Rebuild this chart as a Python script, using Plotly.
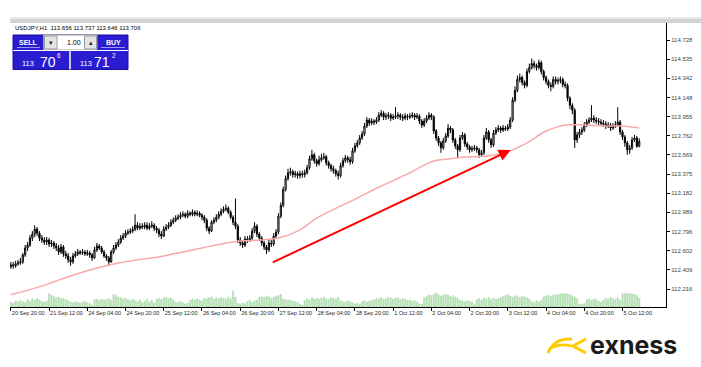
import plotly.graph_objects as go

# ---------------- data ----------------
x_tick_bars = [0, 16, 32, 48, 64, 80, 96, 112, 128, 144, 160, 176, 192, 208, 224, 240, 256]
x_tick_labels = ["20 Sep 20:00", "21 Sep 12:00", "24 Sep 04:00", "24 Sep 20:00", "25 Sep 12:00",
                 "26 Sep 04:00", "26 Sep 20:00", "27 Sep 12:00", "28 Sep 04:00", "28 Sep 20:00",
                 "1 Oct 12:00", "2 Oct 04:00", "2 Oct 20:00", "3 Oct 12:00", "4 Oct 04:00",
                 "4 Oct 20:00", "5 Oct 12:00"]
y_ticks = [114.728, 114.535, 114.342, 114.148, 113.955, 113.762, 113.569, 113.375,
           113.182, 112.989, 112.796, 112.602, 112.409, 112.216]

first_open = 112.44
close = [
    112.46, 112.45, 112.47, 112.48, 112.49, 112.56, 112.63, 112.66, 112.73, 112.77,
    112.82, 112.78, 112.73, 112.71, 112.69, 112.71, 112.67, 112.68, 112.65, 112.63,
    112.59, 112.64, 112.57, 112.55, 112.51, 112.49, 112.55, 112.57, 112.59, 112.58,
    112.59, 112.57, 112.58, 112.56, 112.53, 112.61, 112.65, 112.63, 112.59, 112.55,
    112.53, 112.49, 112.59, 112.63, 112.66, 112.69, 112.73, 112.75, 112.78, 112.79,
    112.80, 112.82, 112.86, 112.83, 112.85, 112.84, 112.86, 112.83, 112.85, 112.86,
    112.83, 112.81, 112.77, 112.75, 112.82, 112.84, 112.86, 112.89, 112.91, 112.93,
    112.94, 112.96, 112.97, 112.95, 112.98, 112.97, 112.99, 112.97, 112.98, 112.96,
    112.94, 112.91, 112.83, 112.80, 112.89, 112.91, 112.94, 112.97, 113.00, 113.02,
    113.03, 112.99, 112.94, 112.89, 112.85, 112.71, 112.68, 112.66, 112.72, 112.71,
    112.73, 112.80, 112.85, 112.77, 112.73, 112.68, 112.64, 112.61, 112.68, 112.67,
    112.75, 112.79, 112.95, 113.06, 113.22, 113.33, 113.39, 113.40, 113.37, 113.38,
    113.36, 113.38, 113.37, 113.39, 113.44, 113.53, 113.57, 113.51, 113.48, 113.52,
    113.54, 113.55, 113.49, 113.46, 113.43, 113.41, 113.38, 113.36, 113.46, 113.51,
    113.54, 113.52, 113.50, 113.61, 113.66, 113.69, 113.74, 113.78, 113.86, 113.92,
    113.89, 113.91, 113.90, 113.92, 113.97, 113.99, 113.95, 113.96, 113.97, 113.94,
    113.95, 113.96, 113.97, 113.95, 113.94, 113.96, 113.95, 113.96, 113.97, 113.95,
    113.96, 113.91, 113.87, 113.91, 113.94, 113.97, 113.95, 113.81, 113.74, 113.69,
    113.64, 113.71, 113.76, 113.84, 113.82, 113.72, 113.66, 113.62, 113.74, 113.77,
    113.68, 113.65, 113.62, 113.63, 113.64, 113.62, 113.57, 113.59, 113.74, 113.80,
    113.72, 113.67, 113.79, 113.82, 113.84, 113.82, 113.84, 113.83, 113.85, 113.92,
    114.12, 114.22, 114.33, 114.35, 114.30, 114.27, 114.41, 114.45, 114.49, 114.47,
    114.45, 114.50, 114.41, 114.35, 114.31, 114.27, 114.26, 114.33, 114.31, 114.32,
    114.33, 114.28, 114.27, 114.14, 114.07, 114.02, 113.72, 113.77, 113.80, 113.82,
    113.87, 113.90, 113.92, 113.94, 113.92, 113.91, 113.90, 113.89, 113.88, 113.86,
    113.87, 113.84, 113.86, 113.87, 113.90, 113.80, 113.75, 113.69, 113.62, 113.64,
    113.72, 113.74, 113.656, 113.706]
high = [
    112.49, 112.49, 112.50, 112.51, 112.53, 112.58, 112.66, 112.69, 112.76, 112.80,
    112.86, 112.84, 112.80, 112.76, 112.74, 112.74, 112.73, 112.71, 112.70, 112.68,
    112.66, 112.67, 112.66, 112.60, 112.58, 112.54, 112.58, 112.60, 112.62, 112.61,
    112.62, 112.61, 112.61, 112.60, 112.58, 112.64, 112.68, 112.67, 112.65, 112.61,
    112.57, 112.55, 112.61, 112.66, 112.69, 112.72, 112.76, 112.78, 112.81, 112.82,
    112.83, 112.85, 112.97, 112.89, 112.88, 112.88, 112.89, 112.89, 112.88, 112.90,
    112.88, 112.85, 112.83, 112.80, 112.85, 112.87, 112.89, 112.92, 112.94, 112.96,
    112.97, 112.99, 113.00, 112.99, 113.01, 113.00, 113.02, 113.01, 113.01, 113.00,
    112.98, 112.96, 112.93, 112.85, 112.91, 112.94, 112.97, 113.00, 113.03, 113.05,
    113.07, 113.05, 113.01, 112.96, 113.13, 112.87, 112.74, 112.71, 112.75, 112.75,
    112.76, 112.83, 112.89, 112.87, 112.79, 112.75, 112.70, 112.66, 112.71, 112.71,
    112.78, 112.82, 112.98, 113.09, 113.25, 113.36, 113.43, 113.44, 113.42, 113.41,
    113.40, 113.41, 113.41, 113.42, 113.47, 113.56, 113.62, 113.59, 113.53, 113.56,
    113.58, 113.59, 113.57, 113.51, 113.48, 113.46, 113.43, 113.41, 113.49, 113.54,
    113.57, 113.56, 113.55, 113.64, 113.69, 113.72, 113.77, 113.81, 113.89, 113.95,
    113.94, 113.94, 113.93, 113.95, 114.00, 114.02, 114.01, 113.99, 114.00, 113.99,
    113.98, 114.05, 114.00, 113.99, 113.98, 113.99, 113.98, 113.99, 114.00, 113.99,
    113.99, 113.98, 113.93, 113.94, 113.97, 114.00, 113.99, 113.97, 113.83, 113.76,
    113.71, 113.74, 113.79, 113.88, 113.86, 113.84, 113.74, 113.68, 113.77, 113.80,
    113.79, 113.70, 113.67, 113.66, 113.67, 113.66, 113.64, 113.62, 113.77, 113.84,
    113.82, 113.74, 113.82, 113.85, 113.87, 113.86, 113.87, 113.86, 113.88, 113.95,
    114.15, 114.26, 114.37, 114.39, 114.37, 114.32, 114.44, 114.49, 114.54, 114.52,
    114.49, 114.53, 114.52, 114.43, 114.37, 114.33, 114.30, 114.36, 114.36, 114.35,
    114.36, 114.35, 114.31, 114.29, 114.16, 114.09, 114.04, 113.80, 113.83, 113.85,
    113.90, 113.93, 113.95, 114.07, 113.97, 113.95, 113.94, 113.93, 113.92, 113.91,
    113.90, 113.89, 113.89, 113.91, 114.05, 113.92, 113.82, 113.77, 113.71, 113.67,
    113.75, 113.77, 113.76, 113.737]
low = [
    112.42, 112.42, 112.43, 112.45, 112.46, 112.47, 112.54, 112.60, 112.64, 112.70,
    112.74, 112.75, 112.70, 112.68, 112.66, 112.66, 112.64, 112.64, 112.62, 112.60,
    112.56, 112.57, 112.54, 112.52, 112.48, 112.45, 112.47, 112.53, 112.55, 112.56,
    112.56, 112.55, 112.55, 112.53, 112.50, 112.52, 112.59, 112.61, 112.57, 112.53,
    112.50, 112.45, 112.48, 112.57, 112.61, 112.64, 112.67, 112.71, 112.73, 112.76,
    112.77, 112.78, 112.80, 112.81, 112.81, 112.82, 112.82, 112.81, 112.81, 112.83,
    112.80, 112.78, 112.74, 112.72, 112.74, 112.80, 112.82, 112.84, 112.87, 112.89,
    112.91, 112.92, 112.94, 112.93, 112.93, 112.95, 112.95, 112.95, 112.95, 112.94,
    112.91, 112.88, 112.80, 112.77, 112.79, 112.87, 112.89, 112.92, 112.95, 112.98,
    113.00, 112.97, 112.92, 112.86, 112.82, 112.68, 112.65, 112.63, 112.64, 112.68,
    112.69, 112.71, 112.78, 112.74, 112.70, 112.65, 112.61, 112.57, 112.59, 112.64,
    112.65, 112.73, 112.77, 112.93, 113.04, 113.20, 113.31, 113.36, 113.34, 113.34,
    113.33, 113.33, 113.34, 113.34, 113.37, 113.42, 113.51, 113.48, 113.45, 113.46,
    113.50, 113.52, 113.46, 113.43, 113.40, 113.38, 113.35, 113.32, 113.34, 113.44,
    113.49, 113.49, 113.47, 113.48, 113.59, 113.64, 113.67, 113.72, 113.76, 113.84,
    113.86, 113.87, 113.87, 113.88, 113.90, 113.95, 113.92, 113.92, 113.93, 113.91,
    113.92, 113.93, 113.93, 113.92, 113.91, 113.92, 113.92, 113.93, 113.94, 113.92,
    113.93, 113.88, 113.84, 113.85, 113.89, 113.92, 113.92, 113.78, 113.71, 113.66,
    113.59, 113.62, 113.69, 113.74, 113.79, 113.69, 113.63, 113.54, 113.60, 113.72,
    113.65, 113.62, 113.59, 113.60, 113.61, 113.59, 113.54, 113.55, 113.57, 113.72,
    113.69, 113.64, 113.65, 113.77, 113.80, 113.79, 113.80, 113.81, 113.81, 113.83,
    113.90, 114.10, 114.20, 114.30, 114.27, 114.24, 114.25, 114.39, 114.43, 114.44,
    114.42, 114.43, 114.38, 114.32, 114.28, 114.24, 114.21, 114.24, 114.28, 114.28,
    114.29, 114.25, 114.24, 114.11, 114.03, 113.98, 113.64, 113.69, 113.74, 113.77,
    113.80, 113.85, 113.88, 113.90, 113.89, 113.88, 113.87, 113.86, 113.85, 113.83,
    113.84, 113.81, 113.82, 113.84, 113.85, 113.77, 113.72, 113.65, 113.57, 113.58,
    113.62, 113.70, 113.64, 113.646]
volume = [
    1400, 1100, 1800, 1500, 2000, 1600, 1300, 2200, 1700, 2400, 2000, 2600, 2200,
    1600, 1500, 1800,
    4000, 3500,
    3200, 2800, 3000, 2500, 2600, 2200, 1800,
    1500, 1300, 1600, 1400, 1200,
    1500, 1700, 1300, 1000,
    600,
    2200, 2400, 2000, 2300, 2100, 2200, 2500, 2000,
    3800, 3500, 3000,
    2800, 2400, 2600, 2200, 2000, 2300, 1900, 1600, 2100,
    1400, 1700, 2300, 1500, 2000, 1200,
    2400, 2600, 2200, 2800, 3000, 2500, 2700, 2200,
    1500, 1400, 1700, 1300, 900, 1200,
    2000, 2400, 2200, 2500, 2100, 1800,
    2600, 2500, 2800, 3000, 2400, 2700, 2500, 2900, 2600, 2300, 2800, 2500,
    4800,
    3000, 1100, 900, 1200, 1000,
    1600, 2000, 1400, 1800, 2100,
    2900, 3100, 2800, 3300, 3000, 2600, 2900, 3200, 3500,
    3800,
    2400, 2200, 2000, 2100, 1800, 1600, 1500,
    800, 600,
    2000, 2500, 2200, 2800, 2400, 2600, 2300, 2700, 3000, 2500, 2200, 2800, 2600, 2400, 2900,
    1800, 1600, 1500, 1900, 1700, 1400,
    900, 1200, 800,
    1600, 1900, 1500, 1800, 2000,
    2200, 2600, 2400, 2800, 2300, 2500, 3000, 2700, 2400, 2600, 2800, 2200, 2500, 2300,
    2000, 2100, 1800, 1900, 1600,
    1000, 800,
    2800, 3200, 3600, 3400, 3800, 4200, 3700, 3300, 3500, 3900, 3600, 3100, 3400, 3000, 2600,
    2000, 1800, 1600, 1900, 1700, 1500, 800,
    2200, 2500, 2000, 2700, 2400, 2800, 2200, 2600, 2300, 2500,
    2900, 3200, 3500, 3800, 3300, 3000, 3400, 3100, 2800, 3200, 3000, 2700, 2400,
    1600, 1300, 1900, 1500, 2000,
    3000, 3300, 3600, 3200, 3500, 3800, 3600, 4000, 4100, 3900, 4000, 3700, 3400, 3000, 2500,
    900, 800, 1000,
    2200, 2500, 2000, 2400, 2300, 1800,
    1500, 2000, 2600, 2300, 2800, 2500, 2200, 2700, 2000,
    4000, 4100, 4000, 4100, 3900, 3800, 3500, 2600]
ma_bar = [0, 8, 16, 24, 32, 40, 48, 56, 64, 72, 80, 88, 96, 104, 112, 120, 128, 136,
          144, 152, 160, 168, 176, 184, 192, 200, 208, 216, 224, 232, 240, 248, 256, 263]
ma_value = [112.16, 112.21, 112.27, 112.34, 112.40, 112.45, 112.49, 112.52, 112.55, 112.59,
            112.63, 112.67, 112.70, 112.71, 112.73, 112.80, 112.93, 113.03, 113.12, 113.22,
            113.31, 113.40, 113.50, 113.53, 113.55, 113.56, 113.60, 113.69, 113.81, 113.87,
            113.87, 113.86, 113.86, 113.84]
arrow_start = (109.0, 112.478)
arrow_end = (209.2, 113.618)

assert len(close) == len(high) == len(low) == len(volume) == 264, (len(close), len(high), len(low), len(volume))

bars = list(range(len(close)))
opens = [first_open] + close[:-1]

# ---------------- layout geometry ----------------
WIDTH, HEIGHT = 701, 367
L, T, R, B = 10, 20, 35, 60
W = WIDTH - L - R
H = HEIGHT - T - B


def px(x):
    return (x - L) / W


def py(y):
    return (T + H - y) / H


def P(x, y):
    return f"{px(x)},{py(y)}"


fig = go.Figure()
fig.add_trace(go.Bar(x=bars, y=volume, yaxis="y2",
                     marker=dict(color="#bfe6bf", line=dict(color="#9fd49f", width=0.5)),
                     width=0.55, showlegend=False, hoverinfo="skip"))
fig.add_trace(go.Scatter(x=ma_bar, y=ma_value, mode="lines",
                         line=dict(color="#f8a9a9", width=1.5, shape="spline"),
                         showlegend=False, hoverinfo="skip"))
fig.add_trace(go.Candlestick(x=bars, open=opens, high=high, low=low, close=close,
                             increasing=dict(line=dict(color="#000000", width=1), fillcolor="#ffffff"),
                             decreasing=dict(line=dict(color="#000000", width=1), fillcolor="#000000"),
                             whiskerwidth=0, showlegend=False))

FONT = "Liberation Sans"
NARROW = "Liberation Sans Narrow, Liberation Sans"
shapes = []
annotations = []

# top grey band
shapes.append(dict(type="rect", xref="paper", yref="paper", x0=px(10), x1=px(701), y0=py(23), y1=py(17.5),
                   fillcolor="#d2d2d2", line=dict(width=0), layer="above"))
shapes.append(dict(type="rect", xref="paper", yref="paper", x0=px(10), x1=px(701), y0=py(19), y1=py(17.5),
                   fillcolor="#e9e9e9", line=dict(width=0), layer="above"))

# trade panel
BLUE = "#2a1cd0"
shapes += [
    dict(type="rect", xref="paper", yref="paper", x0=px(13), x1=px(128), y0=py(69.5), y1=py(35),
         fillcolor=BLUE, line=dict(color="#1a10a0", width=1), layer="above"),
    dict(type="rect", xref="paper", yref="paper", x0=px(43.5), x1=px(97), y0=py(50), y1=py(35),
         fillcolor="#ffffff", line=dict(color="#a0a0a0", width=1), layer="above"),
    dict(type="rect", xref="paper", yref="paper", x0=px(44.5), x1=px(57), y0=py(49), y1=py(36),
         fillcolor="#e4e4e4", line=dict(color="#9a9a9a", width=1), layer="above"),
    dict(type="rect", xref="paper", yref="paper", x0=px(84.5), x1=px(96.5), y0=py(49), y1=py(36),
         fillcolor="#e4e4e4", line=dict(color="#9a9a9a", width=1), layer="above"),
    dict(type="line", xref="paper", yref="paper", x0=px(70), x1=px(70), y0=py(69.5), y1=py(51),
         line=dict(color="#ffffff", width=1.5), layer="above"),
    dict(type="line", xref="paper", yref="paper", x0=px(13), x1=px(128), y0=py(50.5), y1=py(50.5),
         line=dict(color="#ffffff", width=1), layer="above"),
    dict(type="line", xref="paper", yref="paper", x0=px(17), x1=px(40), y0=py(47.5), y1=py(47.5),
         line=dict(color="#9d95f0", width=1), layer="above"),
    dict(type="line", xref="paper", yref="paper", x0=px(101), x1=px(125), y0=py(47.5), y1=py(47.5),
         line=dict(color="#9d95f0", width=1), layer="above"),
]


def txt(x, y, s, size, color="#000000", anchor="center", family=FONT):
    annotations.append(dict(xref="paper", yref="paper", x=px(x), y=py(y), text=s, showarrow=False,
                            xanchor=anchor, yanchor="middle", font=dict(size=size, color=color, family=family)))


txt(13, 28, "USDJPY,H1  113.656 113.737 113.646 113.706", 6, anchor="left")
txt(28, 42.5, "<b>SELL</b>", 7, "#ffffff")
txt(113, 42.5, "<b>BUY</b>", 7, "#ffffff")
txt(74, 42.5, "1.00", 7)
txt(50.8, 42.5, "▾", 7, "#222222")
txt(90.5, 42.5, "▴", 7, "#222222")
txt(28, 63, "113", 7.5, "#ffffff", family=NARROW)
txt(48, 61.5, "70", 14, "#ffffff", family=NARROW)
txt(59, 55.5, "6", 6.5, "#ffffff", family=NARROW)
txt(86, 63, "113", 7.5, "#ffffff", family=NARROW)
txt(102, 61.5, "71", 14, "#ffffff", family=NARROW)
txt(113.5, 55.5, "2", 6.5, "#ffffff", family=NARROW)

# exness logo
YEL = "#ffcc00"
shapes += [
    dict(type="path", xref="paper", yref="paper",
         path=f"M {P(548,353)} Q {P(554,338)} {P(572,339)}", line=dict(color=YEL, width=3), layer="above"),
    dict(type="path", xref="paper", yref="paper",
         path=f"M {P(552,348)} Q {P(560,343)} {P(571,346)}", line=dict(color=YEL, width=2.5), layer="above"),
    dict(type="path", xref="paper", yref="paper",
         path=f"M {P(586,339)} L {P(573,346)} L {P(586,353)}", line=dict(color=YEL, width=3), layer="above"),
]
txt(588, 345, "<b>exness</b>", 25, "#1b1b1b", anchor="left", family="Inter")

# red arrow
annotations.append(dict(x=arrow_end[0], y=arrow_end[1], ax=arrow_start[0], ay=arrow_start[1],
                        xref="x", yref="y", axref="x", ayref="y", text="", showarrow=True,
                        arrowhead=2, arrowsize=1.2, arrowwidth=2, arrowcolor="#ff0000"))

fig.update_layout(
    width=WIDTH, height=HEIGHT,
    margin=dict(l=L, r=R, t=T, b=B),
    paper_bgcolor="#ffffff", plot_bgcolor="#ffffff",
    showlegend=False, hovermode=False,
    shapes=shapes, annotations=annotations,
    xaxis=dict(range=[-0.35, 274.2], tickmode="array", tickvals=x_tick_bars, ticktext=x_tick_labels,
               tickangle=0, automargin=False,
               ticks="outside", ticklen=3, tickcolor="#000000", ticklabelposition="outside right",
               tickfont=dict(size=5.5, color="#222222", family=FONT),
               showline=True, linecolor="#000000", linewidth=1, showgrid=False, zeroline=False,
               rangeslider=dict(visible=False), fixedrange=True),
    yaxis=dict(range=[112.0345, 114.9298], side="right", tickmode="array", tickvals=y_ticks,
               ticktext=[f"{v:.3f}" for v in y_ticks], ticks="outside", ticklen=3, tickcolor="#000000",
               automargin=False,
               tickfont=dict(size=6, color="#444444", family=FONT),
               showline=True, linecolor="#000000", linewidth=1, showgrid=False, zeroline=False, fixedrange=True),
    yaxis2=dict(range=[0, 300 * H], overlaying="y", visible=False, fixedrange=True),
    bargap=0.4,
)

fig.write_html("out.html", config={"displayModeBar": False, "staticPlot": True},
               post_script="document.body.style.margin='0';document.body.style.overflow='hidden';")
